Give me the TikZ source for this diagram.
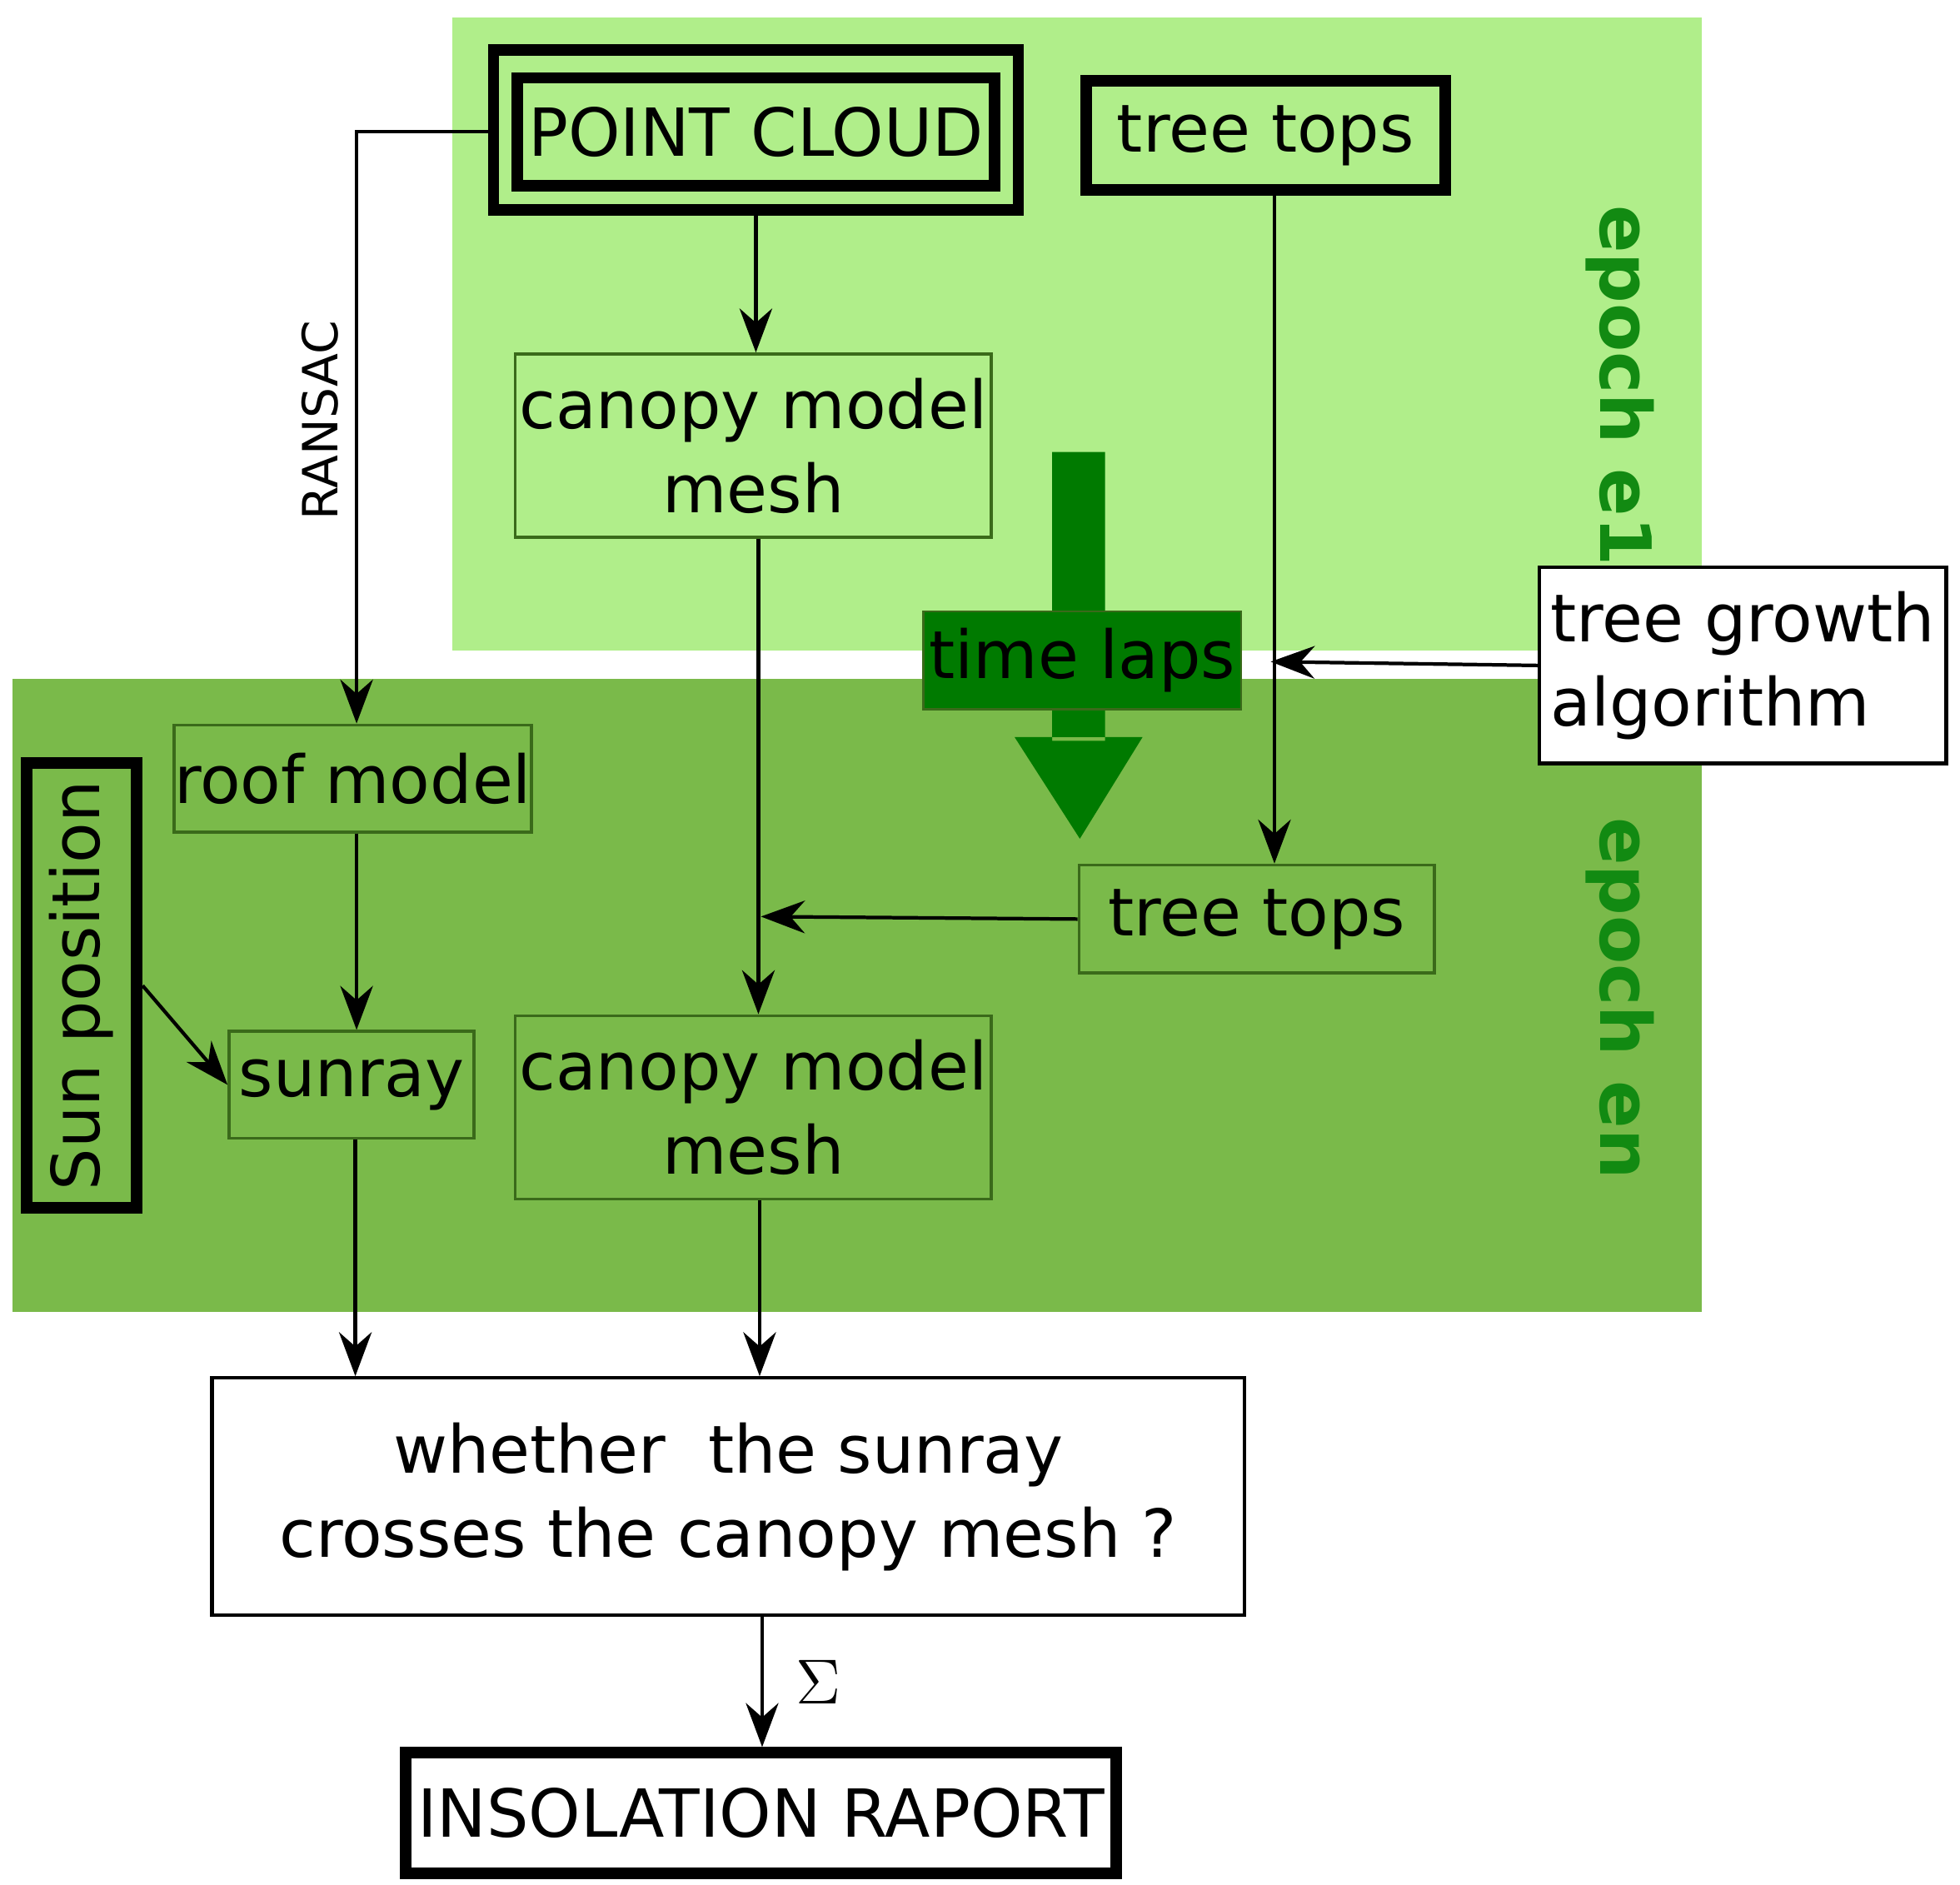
\documentclass[tikz,border=0pt]{standalone}
\usepackage{fontspec}
\setmainfont{DejaVu Sans}
\usetikzlibrary{arrows.meta}
\definecolor{lg}{HTML}{B0EE8A}
\definecolor{dg}{HTML}{7ABA4A}
\definecolor{bd}{HTML}{3A6A1A}
\definecolor{tg}{HTML}{007A00}
\definecolor{ep}{HTML}{128A12}
\begin{document}
\begin{tikzpicture}[x=0.01cm,y=-0.01cm,
  box/.style={draw=bd,line width=0.7pt,inner sep=0pt,align=center,font=\fontsize{15}{19}\selectfont},
  wbox/.style={draw=black,line width=0.8pt,fill=white,inner sep=0pt,align=center,font=\fontsize{15}{19}\selectfont},
  thick box/.style={draw=black,line width=2.6pt,inner sep=0pt,align=center,font=\fontsize{15}{19}\selectfont},
  arr/.style={-{Stealth[length=3.5mm,width=2.6mm]},line width=0.8pt},
  ep/.style={text=ep,font=\bfseries\fontsize{16}{19}\selectfont,rotate=-90}]
\useasboundingbox (0,0) rectangle (1561,1501);
\fill[lg] (360,14) rectangle (1355,518);
\fill[dg] (10,541) rectangle (1355,1045);
% point cloud
\draw[line width=2.6pt] (393,40) rectangle (811,167);
\node[thick box,minimum width=380\pgflinewidth,minimum width=3.8cm,minimum height=0.86cm] (pc) at (602,105) {POINT CLOUD};
\coordinate (pcl) at (393,105);
\coordinate (pcb) at (602,167);
\node[thick box,minimum width=2.86cm,minimum height=0.87cm] (tt1) at (1008,108) {tree tops};
\node[box,minimum width=3.79cm,minimum height=1.46cm] (cm1) at (600,355) {canopy model\\mesh};
\node[ep] (e1) at (1290,307) {epoch e1};
% time laps arrow
\fill[tg] (838,360) rectangle (880,490) (838,560) rectangle (880,590) (808,587) -- (910,587) -- (860,668) -- cycle;
\node[draw=bd,fill=tg,line width=0.5pt,minimum width=2.53cm,minimum height=0.78cm,inner sep=0pt,font=\fontsize{15}{19}\selectfont] (tl) at (862,526) {time laps};
\node[wbox,minimum width=3.24cm,minimum height=1.56cm,align=left] (tg) at (1388,530) {tree growth\\algorithm};
\node[box,minimum width=2.83cm,minimum height=0.85cm] (rm) at (281,620) {roof model};
\node[thick box,minimum width=0.88cm,minimum height=3.54cm] (sp) at (65,785) {};
\node[rotate=90,font=\fontsize{15}{19}\selectfont] at (65,785) {Sun position};
\node[box,minimum width=1.95cm,minimum height=0.85cm] (sr) at (280,864) {sunray};
\node[box,minimum width=2.83cm,minimum height=0.86cm] (tt2) at (1001,732) {tree tops};
\node[box,minimum width=3.79cm,minimum height=1.46cm] (cm2) at (600,882) {canopy model\\mesh};
\node[ep] (en) at (1290,795) {epoch en};
\node[wbox,minimum width=8.22cm,minimum height=1.89cm] (wh) at (580,1192) {whether\ \ the sunray\\crosses the canopy mesh ?};
\node[thick box,minimum width=5.66cm,minimum height=0.96cm] (ir) at (606,1444) {INSOLATION RAPORT};
% connectors
\draw[arr] (pcl) -- (284,105) -- (rm.north -| 284,0);
\node[rotate=90,font=\fontsize{11}{13}\selectfont] at (255,335) {RANSAC};
\draw[arr] (pcb) -- (cm1.north -| pcb);
\draw[arr] (cm1.south -| 604,0) -- (cm2.north -| 604,0);
\draw[arr] (tt2.west) -- (606,730);
\draw[arr] (tt1.south -| 1015,0) -- (tt2.north -| 1015,0);
\draw[arr] (tg.west) -- (1012,527);
\draw[arr] (rm.south -| 284,0) -- (sr.north -| 284,0);
\draw[arr] (sp.east) -- (sr.west);
\draw[arr] (sr.south -| 283,0) -- (wh.north -| 283,0);
\draw[arr] (cm2.south -| 605,0) -- (wh.north -| 605,0);
\draw[arr] (wh.south -| 607,0) -- node[right=4pt,font=\fontsize{14}{16}\selectfont]{$\Sigma$} (ir.north -| 607,0);
\end{tikzpicture}
\end{document}
